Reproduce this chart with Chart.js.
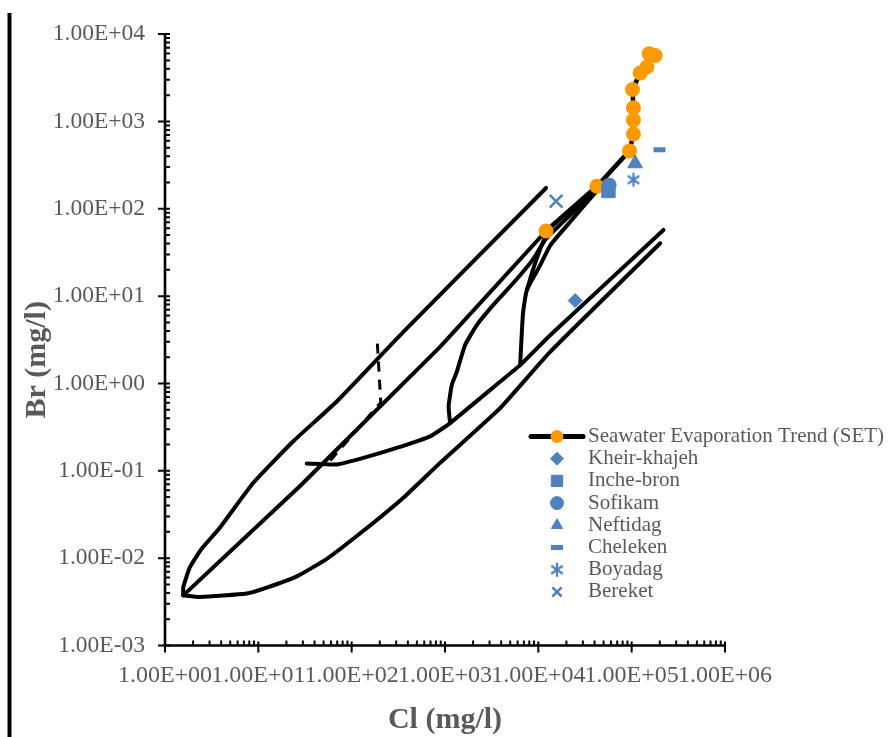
<!DOCTYPE html>
<html>
<head>
<meta charset="utf-8">
<title>Cl vs Br</title>
<script src="https://cdn.jsdelivr.net/npm/chart.js@4.4.1/dist/chart.umd.min.js"></script>
<style>
  html, body { margin: 0; padding: 0; background: #fff; }
  #wrap { position: relative; width: 889px; height: 737px; }
</style>
</head>
<body>
<div id="wrap"><canvas id="chart" width="889" height="737"></canvas></div>
<script>
// values, Cl and Br in mg/l

// axis ticks
const xTickValues = [1, 10, 100, 1000, 10000, 100000, 1000000];
const yTickValues = [0.001, 0.01, 0.1, 1, 10, 100, 1000, 10000];

// seawater evaporation trend
const setCl = [12100, 42400, 94700, 104500, 104500, 104500, 102000, 123400, 145600, 154100, 178500];
const setBr = [55.7, 181, 460, 719, 1038, 1435, 2318, 3590, 4200, 5955, 5690];

// field samples
const kheirCl = [24800];   const kheirBr = [8.9];
const incheCl = [56400];   const incheBr = [160];
const sofiCl = [57400];    const sofiBr = [187];
const neftiCl = [109000];  const neftiBr = [330];
const chelCl = [198700];   const chelBr = [473];
const boyaCl = [104500];   const boyaBr = [215];
const bereCl = [15500];    const bereBr = [122];

// background evolution lines (no legend entry)
const upperCl = [1.57, 1.57, 1.85, 2.47, 3.89, 8.84, 23.7, 69.2, 358, 12100];
const upperBr = [0.00375, 0.00467, 0.00788, 0.0128, 0.0225, 0.073, 0.218, 0.621, 3.89, 173];
const dilCl = [1.57, 28, 886, 12100];
const dilBr = [0.00375, 0.067, 2.62, 55.7];
const lowerCl = [1.57, 2.37, 7.51, 12.3, 25.8, 54.1, 133.5, 358, 886, 3895, 13380, 202100];
const lowerBr = [0.00375, 0.00359, 0.00393, 0.00459, 0.00618, 0.00982, 0.0206, 0.0493, 0.1233, 0.521, 2.30, 40.3];
const midCl = [33.0, 69.2, 133.5, 304, 692, 1134, 3895, 6383, 13380, 219200];
const midBr = [0.1214, 0.1183, 0.1406, 0.1827, 0.248, 0.352, 1.048, 1.623, 3.56, 57.2];
const curveECl = [1134, 1093, 1183, 1338, 1642, 2192, 3278, 5885, 8799, 12120, 42360];
const curveEBr = [0.352, 0.545, 0.962, 1.362, 2.763, 4.666, 7.88, 15.69, 26.5, 45.6, 165.9];
const curveFCl = [6383, 6657, 6873, 7586, 10450, 13380, 20210, 42360];
const curveFBr = [1.623, 3.885, 6.56, 11.98, 22.46, 37.9, 64.1, 160.2];
const branchFCl = [7586, 8799, 10450, 12120];
const branchFBr = [11.98, 20.4, 34.4, 50.6];
const dashCl = [188.6, 205.1, 54.1];
const dashBr = [2.858, 0.605, 0.1183];

const BLUE = '#4F81BD';
const ORANGE = '#FF9900';
const GREY = '#595959';
const FONT = '"Liberation Serif", "Times New Roman", serif';

function pts(xs, ys) {
    return xs.map((x, i) => ({ x: x, y: ys[i] }));
}

// 6-armed asterisk marker
function asteriskMarker(size, color) {
    const c = document.createElement('canvas');
    c.width = size; c.height = size;
    const g = c.getContext('2d');
    g.strokeStyle = color;
    g.lineWidth = 2.2;
    const m = size / 2, r = size / 2 - 1;
    [90, 35, 145].forEach(deg => {
        const a = deg * Math.PI / 180;
        g.beginPath();
        g.moveTo(m - Math.cos(a) * r, m - Math.sin(a) * r);
        g.lineTo(m + Math.cos(a) * r, m + Math.sin(a) * r);
        g.stroke();
    });
    return c;
}
const asterisk = asteriskMarker(16, BLUE);

function blackLine(xs, ys, extra) {
    return Object.assign({
        data: pts(xs, ys),
        showLine: true,
        borderColor: '#000',
        borderWidth: 4,
        pointRadius: 0,
        pointHoverRadius: 0,
        tension: 0.15,
        borderCapStyle: 'round',
        borderJoinStyle: 'round',
        order: 3
    }, extra || {});
}

function sample(label, xs, ys, style, radius, bw) {
    return {
        label: label,
        data: pts(xs, ys),
        showLine: false,
        pointStyle: style,
        pointRadius: radius,
        pointHoverRadius: radius,
        pointBackgroundColor: BLUE,
        pointBorderColor: BLUE,
        pointBorderWidth: bw,
        order: 0
    };
}

const sampleSets = [
    sample('Kheir-khajeh', kheirCl, kheirBr, 'rectRot', 7, 1),
    sample('Inche-bron', incheCl, incheBr, 'rect', 9.5, 1),
    sample('Sofikam', sofiCl, sofiBr, 'circle', 7, 1),
    sample('Neftidag', neftiCl, neftiBr, 'triangle', 8.5, 1),
    sample('Cheleken', chelCl, chelBr, 'line', 6, 5),
    sample('Boyadag', boyaCl, boyaBr, asterisk, 8, 0),
    sample('Bereket', bereCl, bereBr, 'crossRot', 9, 2.5)
];

const setDataset = {
    label: 'Seawater Evaporation Trend (SET)',
    data: pts(setCl, setBr),
    showLine: true,
    borderColor: '#000',
    borderWidth: 4.5,
    borderCapStyle: 'round',
    pointStyle: 'circle',
    pointRadius: 7.5,
    pointHoverRadius: 7.5,
    pointBackgroundColor: ORANGE,
    pointBorderColor: ORANGE,
    pointBorderWidth: 0,
    tension: 0,
    order: 1
};

function sciLabel(v) {
    const e = Math.round(Math.log10(v));
    const mant = (v / Math.pow(10, e)).toFixed(2);
    return mant + 'E' + (e < 0 ? '-' : '+') + String(Math.abs(e)).padStart(2, '0');
}

// axis lines, crossing major ticks, inside minor ticks
const axisPlugin = {
    id: 'axisDecor',
    beforeDatasetsDraw(chart) {
        const { ctx, chartArea: a, scales: { x, y } } = chart;
        ctx.save();
        ctx.strokeStyle = '#000';
        ctx.lineWidth = 2.6;
        ctx.beginPath();
        ctx.moveTo(a.left, a.top - 1);
        ctx.lineTo(a.left, a.bottom);
        ctx.lineTo(a.right + 1, a.bottom);
        ctx.stroke();

        ctx.lineWidth = 2;
        ctx.beginPath();
        xTickValues.forEach((v, i) => {
            const px = x.getPixelForValue(v);
            ctx.moveTo(px, a.bottom - 4);
            ctx.lineTo(px, a.bottom + 7);
            if (i < xTickValues.length - 1) {
                for (let k = 2; k <= 9; k++) {
                    const mx = x.getPixelForValue(v * k);
                    ctx.moveTo(mx, a.bottom);
                    ctx.lineTo(mx, a.bottom - 5);
                }
            }
        });
        yTickValues.forEach((v, i) => {
            const py = y.getPixelForValue(v);
            ctx.moveTo(a.left - 7, py);
            ctx.lineTo(a.left + 5, py);
            if (i < yTickValues.length - 1) {
                for (let k = 2; k <= 9; k++) {
                    const my = y.getPixelForValue(v * k);
                    ctx.moveTo(a.left, my);
                    ctx.lineTo(a.left + 5, my);
                }
            }
        });
        ctx.stroke();
        ctx.restore();
    }
};

// titles, page rule and the legend box
const decorPlugin = {
    id: 'decor',
    afterDraw(chart) {
        const { ctx, chartArea: a } = chart;
        ctx.save();

        ctx.fillStyle = '#000';
        ctx.fillRect(7.5, 13, 4, 737 - 13);

        ctx.fillStyle = GREY;
        ctx.font = 'bold 30px ' + FONT;
        ctx.textAlign = 'center';
        ctx.textBaseline = 'middle';
        ctx.fillText('Cl (mg/l)', (a.left + a.right) / 2, 720);
        ctx.save();
        ctx.translate(37, (a.top + a.bottom) / 2 + 20);
        ctx.rotate(-Math.PI / 2);
        ctx.fillText('Br (mg/l)', 0, 0);
        ctx.restore();

        const items = [setDataset].concat(sampleSets);
        const lx = 557, tx = 588, top = 436.5, step = 22.2;
        ctx.font = '21px ' + FONT;
        ctx.textAlign = 'left';
        items.forEach((ds, i) => {
            const ly = top + i * step;
            if (ds.showLine) {
                ctx.strokeStyle = '#000';
                ctx.lineWidth = 5;
                ctx.lineCap = 'round';
                ctx.beginPath();
                ctx.moveTo(lx - 26, ly);
                ctx.lineTo(lx + 26, ly);
                ctx.stroke();
            }
            ctx.fillStyle = ds.pointBackgroundColor;
            ctx.strokeStyle = ds.pointBorderColor;
            ctx.lineWidth = ds.pointBorderWidth;
            ctx.lineCap = 'butt';
            let r = Math.min(ds.pointRadius, 6.5);
            if (ds.pointStyle === 'rect') r = 8;
            Chart.helpers.drawPoint(ctx, {
                pointStyle: ds.pointStyle,
                radius: r,
                borderWidth: ds.pointBorderWidth,
                rotation: 0
            }, lx, ly);
            ctx.fillStyle = GREY;
            ctx.fillText(ds.label, tx, ly);
        });
        ctx.restore();
    }
};

const chart = new Chart(document.getElementById('chart'), {
    type: 'scatter',
    data: {
        datasets: sampleSets.concat([
            setDataset,
            blackLine(upperCl, upperBr),
            blackLine(dilCl, dilBr, { tension: 0 }),
            blackLine(lowerCl, lowerBr),
            blackLine(midCl, midBr),
            blackLine(curveECl, curveEBr),
            blackLine(curveFCl, curveFBr),
            blackLine(branchFCl, branchFBr),
            blackLine(dashCl, dashBr, { borderWidth: 3, borderDash: [10, 8], borderCapStyle: 'butt', tension: 0 })
        ])
    },
    options: {
        responsive: false,
        animation: false,
        devicePixelRatio: 1,
        events: [],
        layout: { padding: { top: 30.5, right: 164, left: 0, bottom: 0 } },
        plugins: {
            legend: { display: false },
            tooltip: { enabled: false }
        },
        scales: {
            x: {
                type: 'logarithmic',
                position: 'bottom',
                min: 1,
                max: 1000000,
                grid: { display: false, drawTicks: false },
                border: { display: false },
                afterBuildTicks: s => { s.ticks = xTickValues.map(v => ({ value: v })); },
                afterFit: s => { s.height = 91.5; },
                ticks: {
                    autoSkip: false,
                    maxRotation: 0,
                    padding: 16,
                    color: GREY,
                    font: { family: FONT, size: 24 },
                    callback: v => sciLabel(v)
                }
            },
            y: {
                type: 'logarithmic',
                position: 'left',
                min: 0.001,
                max: 10000,
                grid: { display: false, drawTicks: false },
                border: { display: false },
                afterBuildTicks: s => { s.ticks = yTickValues.map(v => ({ value: v })); },
                afterFit: s => { s.width = 165; },
                ticks: {
                    autoSkip: false,
                    padding: 20,
                    color: GREY,
                    font: { family: FONT, size: 23.5 },
                    callback: v => sciLabel(v)
                }
            }
        }
    },
    plugins: [axisPlugin, decorPlugin]
});
</script>
</body>
</html>
